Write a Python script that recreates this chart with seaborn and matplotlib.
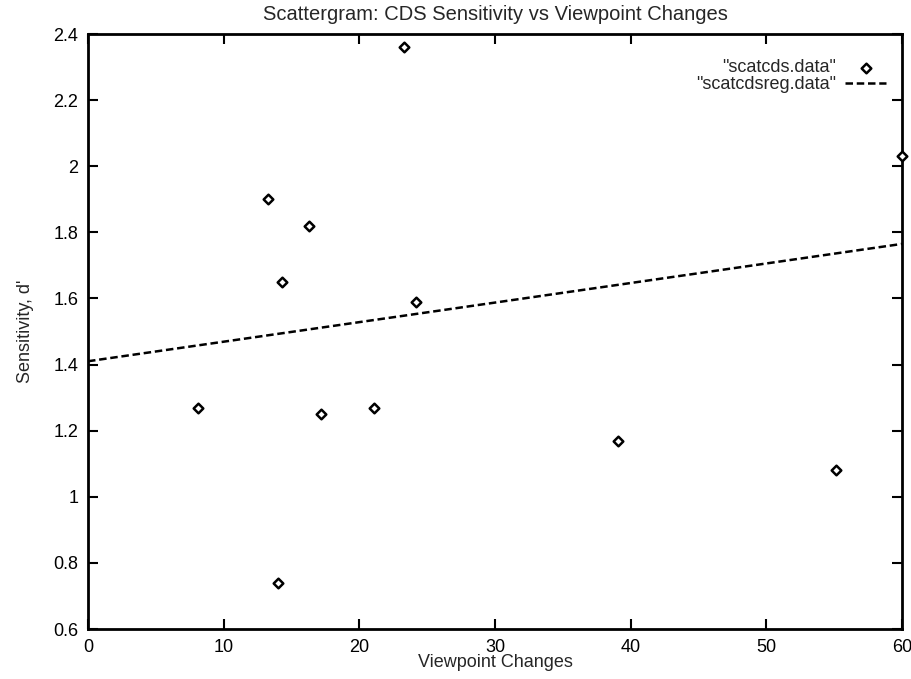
import matplotlib
matplotlib.use("Agg")
import matplotlib.pyplot as plt
import seaborn as sns
import pandas as pd

# Data
viewpoint = [8.1, 13.3, 14.0, 14.3, 16.3, 17.2, 21.1, 23.3, 24.2, 39.1, 55.1, 60.0]
sensitivity = [1.27, 1.90, 0.74, 1.65, 1.82, 1.25, 1.27, 2.36, 1.59, 1.17, 1.08, 2.03]
reg_x = [0, 60]
reg_y = [1.41, 1.765]

x_ticks = [0, 10, 20, 30, 40, 50, 60]
y_ticks = [0.6, 0.8, 1.0, 1.2, 1.4, 1.6, 1.8, 2.0, 2.2, 2.4]
y_tick_labels = ["0.6", "0.8", "1", "1.2", "1.4", "1.6", "1.8", "2", "2.2", "2.4"]

sns.set_style("ticks")
plt.rcParams['font.family'] = ['Liberation Sans', 'DejaVu Sans']

fig = plt.figure(figsize=(9.12, 6.79), dpi=100)
ax = fig.add_axes([88/912, 1 - 629/679, (902 - 88)/912, (629 - 34)/679])

df = pd.DataFrame({"x": viewpoint, "y": sensitivity})
dreg = pd.DataFrame({"x": reg_x, "y": reg_y})

sns.scatterplot(data=df, x="x", y="y", ax=ax, marker="D", s=24,
                facecolor="white", edgecolor="black", linewidth=1.8,
                label='"scatcds.data"', clip_on=False, zorder=3)
sns.lineplot(data=dreg, x="x", y="y", ax=ax, color="black", linewidth=1.8,
             linestyle=(0, (3, 1.5)), label='"scatcdsreg.data"')

ax.set_xlim(0, 60)
ax.set_ylim(0.6, 2.4)
ax.set_xticks(x_ticks)
ax.set_xticklabels([str(t) for t in x_ticks])
ax.set_yticks(y_ticks)
ax.set_yticklabels(y_tick_labels)
ax.tick_params(direction="in", length=7, width=1.5, top=True, right=True,
               labelsize=13, pad=7, colors="black")
for sp in ax.spines.values():
    sp.set_linewidth(2)
    sp.set_color("black")

ax.set_xlabel("Viewpoint Changes", fontsize=13, labelpad=-1)
ax.set_ylabel("Sensitivity, d'", fontsize=13, labelpad=14)
ax.set_title("Scattergram: CDS Sensitivity vs Viewpoint Changes", fontsize=14.5, pad=10)

leg = ax.legend(loc="upper right", frameon=False, markerfirst=False, fontsize=13,
                handlelength=2.3, handletextpad=0.5, borderaxespad=1.2,
                borderpad=0.2, labelspacing=0.0, bbox_to_anchor=(1.012, 1.0))

fig.savefig("out.png", dpi=100, facecolor="white")
